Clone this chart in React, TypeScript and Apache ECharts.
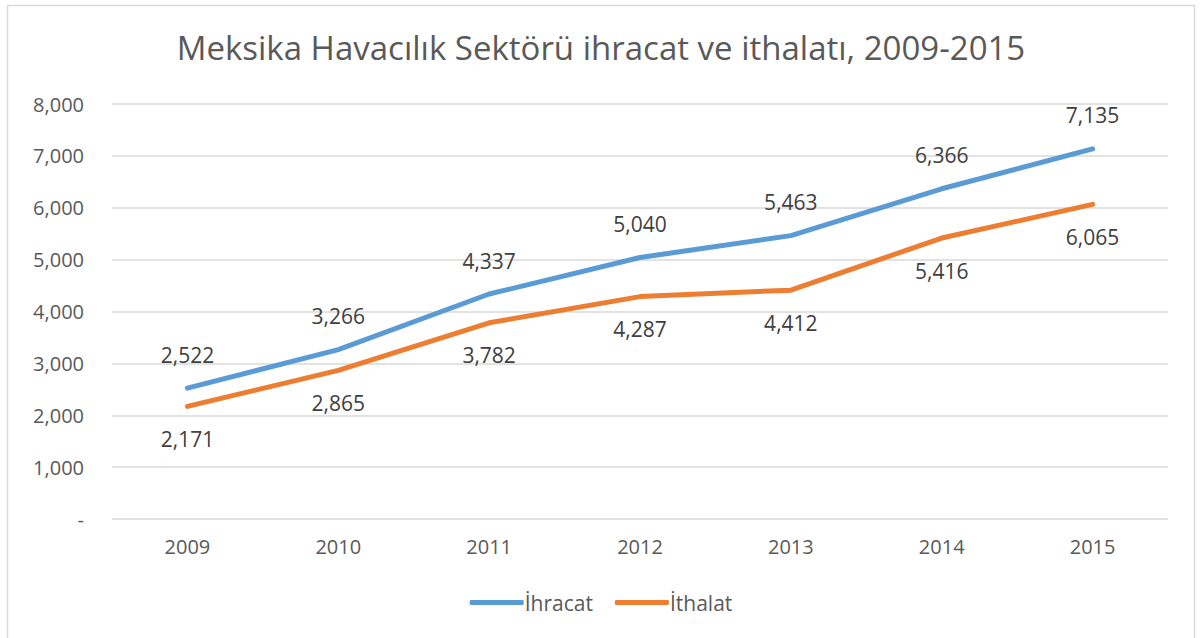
import React, { useEffect, useRef } from "react";
import * as echarts from "echarts";

const years = ["2009", "2010", "2011", "2012", "2013", "2014", "2015"];
const ihracat = [2522, 3266, 4337, 5040, 5463, 6366, 7135];
const ithalat = [2171, 2865, 3782, 4287, 4412, 5416, 6065];
const titleText = "Meksika Havacılık Sektörü ihracat ve ithalatı, 2009-2015";

const FONT = "'Open Sans', 'Noto Sans', sans-serif";
const fmt = (v: number) => (v === 0 ? "-" : v.toLocaleString("en-US"));

export default function App() {
  const ref = useRef<HTMLDivElement>(null);
  useEffect(() => {
    if (!ref.current) return;
    const chart = echarts.init(ref.current, null, { renderer: "svg" });
    chart.setOption({
      animation: false,
      backgroundColor: "#ffffff",
      textStyle: { fontFamily: FONT },
      title: {
        text: titleText,
        left: "center",
        top: 26,
        textStyle: { fontFamily: FONT, fontSize: 33, fontWeight: "normal", color: "#595959" },
      },
      graphic: [
        {
          type: "rect",
          shape: { x: 7.5, y: 5.5, width: 1187, height: 640 },
          style: { fill: "none", stroke: "#d9d9d9", lineWidth: 1.5 },
          silent: true,
        },
      ],
      legend: {
        bottom: 20,
        left: "center",
        itemWidth: 54,
        itemHeight: 5,
        itemGap: 22,
        icon: "roundRect",
        textStyle: { fontFamily: FONT, fontSize: 21, color: "#595959", padding: [0, 0, 0, -4] },
        data: ["İhracat", "İthalat"],
      },
      grid: { left: 112, right: 34, top: 104, bottom: 119, containLabel: false },
      xAxis: {
        type: "category",
        data: years,
        boundaryGap: true,
        axisLine: { show: false },
        axisTick: { show: false },
        axisLabel: { fontFamily: FONT, fontSize: 20, color: "#595959", margin: 17 },
      },
      yAxis: {
        type: "value",
        min: 0,
        max: 8000,
        interval: 1000,
        axisLine: { show: false },
        axisTick: { show: false },
        splitLine: { lineStyle: { color: "#d9d9d9", width: 1.5 } },
        axisLabel: {
          fontFamily: FONT,
          fontSize: 20,
          color: "#595959",
          margin: 28,
          formatter: (v: number) => fmt(v),
        },
      },
      series: [
        {
          name: "İhracat",
          type: "line",
          data: ihracat,
          symbol: "circle",
          symbolSize: 2,
          showSymbol: true,
          itemStyle: { color: "#5b9bd5" },
          color: "#5b9bd5",
          lineStyle: { width: 5, color: "#5b9bd5", cap: "round" },
          label: {
            show: true,
            position: "top",
            distance: 22,
            fontFamily: FONT,
            fontSize: 21,
            color: "#404040",
            formatter: (p: any) => fmt(p.value),
          },
        },
        {
          name: "İthalat",
          type: "line",
          data: ithalat,
          symbol: "circle",
          symbolSize: 2,
          showSymbol: true,
          itemStyle: { color: "#ed7d31" },
          color: "#ed7d31",
          lineStyle: { width: 5, color: "#ed7d31", cap: "round" },
          label: {
            show: true,
            position: "bottom",
            distance: 21,
            fontFamily: FONT,
            fontSize: 21,
            color: "#404040",
            formatter: (p: any) => fmt(p.value),
          },
        },
      ],
    });
    return () => chart.dispose();
  }, []);
  return (
    <div
      ref={ref}
      style={{ position: "absolute", left: 0, top: 0, width: 1202, height: 638 }}
    />
  );
}
